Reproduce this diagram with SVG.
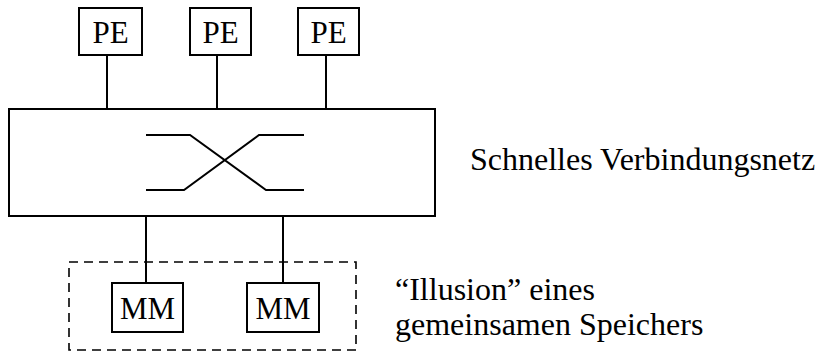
<svg xmlns="http://www.w3.org/2000/svg" width="821" height="353" viewBox="0 0 821 353">
<style>
.box{fill:#fff;stroke:#000;stroke-width:2}
.ln{fill:none;stroke:#000;stroke-width:2}
.dash{fill:none;stroke:#000;stroke-width:1.6;stroke-dasharray:9 6}
text{font-family:"Liberation Serif","Times New Roman",serif;fill:#000}
.lbl{font-size:31px;text-anchor:middle}
.side{font-size:32px}
</style>
<rect width="821" height="353" fill="#fff"/>
<g id="connectors">
<path class="ln" d="M107,55V109M217,55V109M326,55V109M146,216V283M283,216V283"/>
</g>
<g id="network">
<rect class="box" x="9" y="109" width="426" height="107"/>
<path class="ln" d="M146,135H190L266,190H304M146,190H184L259,135H304"/>
</g>
<g id="pe1"><rect class="box" x="79" y="8" width="63" height="47"/><text class="lbl" x="110.5" y="43">PE</text></g>
<g id="pe2"><rect class="box" x="190" y="8" width="61" height="47"/><text class="lbl" x="220.5" y="43">PE</text></g>
<g id="pe3"><rect class="box" x="298" y="8" width="61" height="47"/><text class="lbl" x="328.5" y="43">PE</text></g>
<g id="shared-memory">
<rect class="dash" x="69" y="262" width="287" height="88"/>
</g>
<g id="mm1"><rect class="box" x="112" y="283" width="71" height="49"/><text class="lbl" x="147.5" y="319">MM</text></g>
<g id="mm2"><rect class="box" x="247" y="283" width="72" height="49"/><text class="lbl" x="283" y="319">MM</text></g>
<g id="labels">
<text class="side" x="470" y="170">Schnelles Verbindungsnetz</text>
<text class="side" x="395" y="300">“Illusion” eines</text>
<text class="side" x="395" y="335">gemeinsamen Speichers</text>
</g>
</svg>
